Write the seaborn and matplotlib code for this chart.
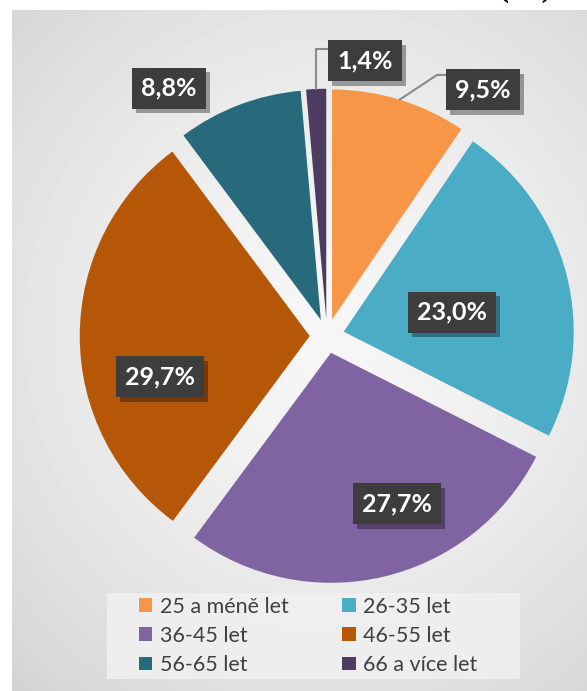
import numpy as np
import matplotlib
matplotlib.use("Agg")
import matplotlib.pyplot as plt
import matplotlib.patheffects as pe
from matplotlib.patches import Patch, Rectangle
import seaborn as sns

# ---- data ----
categories = ["25 a méně let", "26-35 let", "36-45 let", "46-55 let", "56-65 let", "66 a více let"]
values = [9.5, 23.0, 27.7, 29.7, 8.8, 1.4]
value_labels = ["9,5%", "23,0%", "27,7%", "29,7%", "8,8%", "1,4%"]
colors = ["#F79646", "#4BACC6", "#8064A2", "#B65708", "#276A7C", "#4D3B62"]

# label placement (style, in pie-radius units relative to centre)
label_pos = [(0.678, 1.070), (0.543, 0.104), (0.304, -0.730),
             (-0.726, -0.178), (-0.687, 1.078), (0.165, 1.196)]

sns.set_theme(style="white")
palette = sns.color_palette(colors)
plt.rcParams['font.family'] = ['Lato', 'DejaVu Sans']

W, H = 587, 691
fig = plt.figure(figsize=(W / 100, H / 100), dpi=100)
fig.patch.set_facecolor("white")

# ---- background panel with radial gradient ----
bx0, by_top = 12, 10
ax_bg = fig.add_axes([bx0 / W, 0, 1 - bx0 / W, (H - by_top) / H])
yy, xx = np.mgrid[by_top:H, bx0:W]
d = np.hypot(xx - 330, (yy - 330) * 0.95) / 450.0
img = np.clip(0.965 - 0.13 * d ** 1.6, 0.80, 1.0)
ax_bg.imshow(img, cmap="gray", vmin=0, vmax=1, aspect="auto", interpolation="bilinear")
ax_bg.set_axis_off()

# ---- pie ----
R = 230.0
cx, cy = 327.0, 336.0
L = 1.3
size = 2 * L * R
ax = fig.add_axes([(cx - size / 2) / W, (H - cy - size / 2) / H, size / W, size / H])

explode = [0.075] * len(values)
wedges, _ = ax.pie(values, colors=palette, startangle=90, counterclock=False,
                   explode=explode, radius=1.0,
                   wedgeprops=dict(edgecolor="none", linewidth=0))
ax.set_xlim(-L, L)
ax.set_ylim(-L, L)
ax.set_aspect("equal")
ax.set_axis_off()

shadow = [pe.withSimplePatchShadow(offset=(3, -3), shadow_rgbFace="black", alpha=0.35)]
for (lx, ly), txt in zip(label_pos, value_labels):
    t = ax.text(lx, ly, txt, ha="center", va="center", color="white",
                fontsize=18, fontweight="bold", zorder=5,
                bbox=dict(boxstyle="square,pad=0.36", facecolor="#3d3d3d", edgecolor="none"))
    t.get_bbox_patch().set_path_effects(shadow)

# leader lines for the two outer labels
def arc_point(w):
    ang = np.deg2rad((w.theta1 + w.theta2) / 2)
    c = np.array(w.center)
    return c + w.r * np.array([np.cos(ang), np.sin(ang)])

p = arc_point(wedges[5])
ax.plot([p[0], p[0], 0.013], [p[1], 1.248, 1.248], color="#8a8a8a", lw=1.5, clip_on=False, zorder=4)
p = arc_point(wedges[0])
ax.plot([p[0], 0.478, 0.526], [p[1], 1.135, 1.135], color="#8a8a8a", lw=1.5, clip_on=False, zorder=4)

# ---- legend (row-wise order like the reference) ----
fig.patches.append(Rectangle((107 / W, 1 - 679 / H), 413 / W, 86 / H, transform=fig.transFigure,
                             facecolor="#f0f0f0", edgecolor="none", alpha=0.9, zorder=1))
order = [0, 2, 4, 1, 3, 5]
handles = [Patch(facecolor=palette[i], edgecolor="none") for i in order]
labels = [categories[i] for i in order]
leg = fig.legend(handles, labels, loc="upper left", bbox_to_anchor=(139 / W, 1 - 597 / H),
                 ncol=2, frameon=False, fontsize=15.5, handlelength=0.62, handleheight=0.62,
                 handletextpad=0.35, labelspacing=0.42, columnspacing=2.5,
                 borderpad=0, borderaxespad=0)
for t in leg.get_texts():
    t.set_color("#404040")
leg.set_zorder(3)

# clipped title remnant
fig.text(525 / W, 1 + 4.5 / H, "(%)", ha="center", va="baseline", fontsize=24,
         fontweight="bold", family="Liberation Serif", color="black")

fig.savefig("out.png", dpi=100)
